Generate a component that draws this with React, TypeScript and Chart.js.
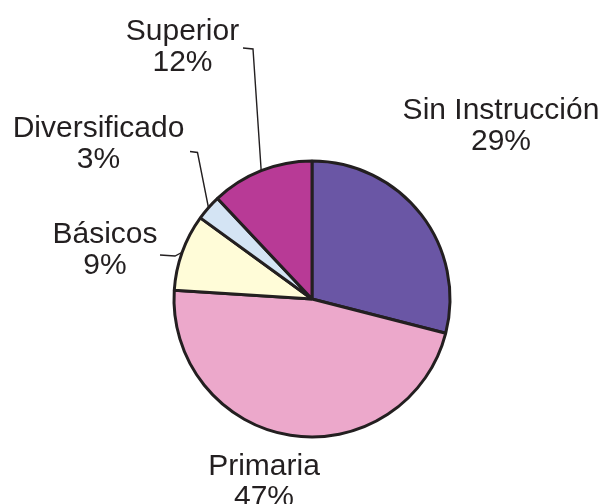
import React, { useEffect, useRef } from "react";
import { Chart, registerables } from "chart.js";

Chart.register(...registerables);

const categories = ["Sin Instrucción", "Primaria", "Básicos", "Diversificado", "Superior"];
const values = [29, 47, 9, 3, 12];
const percentLabels = ["29%", "47%", "9%", "3%", "12%"];

const sliceColors = ["#6A56A5", "#ECA8CB", "#FFFCD8", "#D4E4F4", "#B83A96"];
const ink = "#231F20";

// label layout: text center x, first baseline y, optional leader (text-side point, elbow)
type LabelLayout = { x: number; y: number; leader?: [number, number][] };
const labelLayout: LabelLayout[] = [
  { x: 501, y: 119 },
  { x: 264, y: 475 },
  { x: 105, y: 243, leader: [[160, 255], [175, 256]] },
  { x: 98.5, y: 137, leader: [[190, 151.5], [197.5, 152.5]] },
  { x: 182.5, y: 40, leader: [[243, 48], [253, 49]] },
];

const labelPlugin = {
  id: "pieLabels",
  afterDraw(chart: any) {
    const ctx = chart.ctx as CanvasRenderingContext2D;
    const meta = chart.getDatasetMeta(0);
    ctx.save();
    meta.data.forEach((arc: any, i: number) => {
      const L = labelLayout[i];
      if (L.leader) {
        const { x, y, startAngle, endAngle, outerRadius } = arc.getProps(
          ["x", "y", "startAngle", "endAngle", "outerRadius"],
          true
        );
        const mid = (startAngle + endAngle) / 2;
        const ex = x + Math.cos(mid) * outerRadius;
        const ey = y + Math.sin(mid) * outerRadius;
        ctx.beginPath();
        ctx.strokeStyle = ink;
        ctx.lineWidth = 1.4;
        ctx.moveTo(L.leader[0][0], L.leader[0][1]);
        ctx.lineTo(L.leader[1][0], L.leader[1][1]);
        ctx.lineTo(ex, ey);
        ctx.stroke();
      }
      ctx.fillStyle = ink;
      ctx.font = '30px "Liberation Sans", Arial, sans-serif';
      ctx.textAlign = "center";
      ctx.textBaseline = "alphabetic";
      ctx.fillText(categories[i], L.x, L.y);
      ctx.fillText(percentLabels[i], L.x, L.y + 31);
    });
    ctx.restore();
  },
};

export default function App() {
  const canvasRef = useRef<HTMLCanvasElement | null>(null);

  useEffect(() => {
    document.body.style.margin = "0";
    const canvas = canvasRef.current!;
    const chart = new Chart(canvas, {
      type: "pie",
      data: {
        labels: categories,
        datasets: [
          {
            data: values,
            backgroundColor: sliceColors,
            borderColor: ink,
            borderWidth: 3,
            borderJoinStyle: "bevel",
          },
        ],
      },
      options: {
        responsive: false,
        animation: false,
        devicePixelRatio: 1,
        layout: { padding: { left: 172.5, right: 153.5, top: 159.5, bottom: 65.5 } },
        plugins: {
          legend: { display: false },
          tooltip: { enabled: false },
        },
      },
      plugins: [labelPlugin],
    });
    return () => chart.destroy();
  }, []);

  return (
    <div style={{ position: "absolute", left: 0, top: 0, width: 605, height: 504, background: "#fff" }}>
      <canvas ref={canvasRef} width={605} height={504} />
    </div>
  );
}
